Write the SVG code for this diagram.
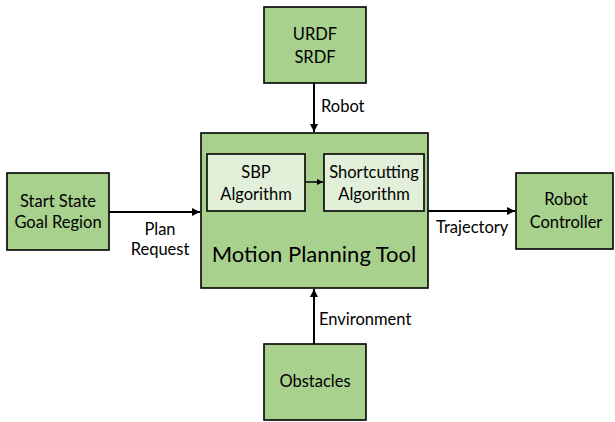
<svg xmlns="http://www.w3.org/2000/svg" width="615" height="422" viewBox="0 0 615 422">
<style>
.box{fill:#A9D18E;stroke:#000;stroke-width:1.6}
.inner{fill:#E2F0D9;stroke:#000;stroke-width:1.6}
.t{font-family:Lato,"Noto Sans",sans-serif;font-size:16.5px;fill:#000;text-anchor:middle}
.l{font-family:Lato,"Noto Sans",sans-serif;font-size:16.5px;fill:#000}
.big{font-family:Lato,"Noto Sans",sans-serif;font-size:22px;fill:#000;text-anchor:middle}
.c{stroke:#000;stroke-width:2;fill:none}
.ci{stroke:#000;stroke-width:1.5;fill:none}
</style>
<defs>
<marker id="ah" viewBox="0 0 10 10" refX="10" refY="5" markerWidth="8" markerHeight="8" orient="auto" markerUnits="userSpaceOnUse">
<path d="M0,0 L10,5 L0,10 z" fill="#000"/>
</marker>
<marker id="ahs" viewBox="0 0 10 10" refX="10" refY="5" markerWidth="6" markerHeight="6" orient="auto" markerUnits="userSpaceOnUse">
<path d="M0,0 L10,5 L0,10 z" fill="#000"/>
</marker>
</defs>
<rect width="615" height="422" fill="#fff"/>
<g id="urdf">
<rect class="box" x="264" y="7" width="102" height="76"/>
<text class="t" x="315" y="40">URDF</text>
<text class="t" x="315" y="63">SRDF</text>
</g>
<g id="start">
<rect class="box" x="7" y="173" width="102" height="77"/>
<text class="t" x="58" y="207">Start State</text>
<text class="t" x="58" y="228">Goal Region</text>
</g>
<g id="mpt">
<rect class="box" x="201" y="133" width="227" height="155"/>
<text class="big" x="314" y="262">Motion Planning Tool</text>
</g>
<g id="sbp">
<rect class="inner" x="207" y="154" width="98" height="57"/>
<text class="t" x="256" y="178">SBP</text>
<text class="t" x="256" y="200">Algorithm</text>
</g>
<g id="shortcut">
<rect class="inner" x="324" y="154" width="100" height="57"/>
<text class="t" x="374" y="178">Shortcutting</text>
<text class="t" x="374" y="200">Algorithm</text>
</g>
<g id="controller">
<rect class="box" x="516" y="173" width="97" height="76"/>
<text class="t" x="566" y="205">Robot</text>
<text class="t" x="566" y="228">Controller</text>
</g>
<g id="obstacles">
<rect class="box" x="264" y="344" width="102" height="76"/>
<text class="t" x="315" y="387">Obstacles</text>
</g>
<g id="connectors">
<line class="c" x1="314" y1="83" x2="314" y2="132" marker-end="url(#ah)"/>
<line class="c" x1="109" y1="212" x2="200" y2="212" marker-end="url(#ah)"/>
<line class="c" x1="428" y1="211" x2="515" y2="211" marker-end="url(#ah)"/>
<line class="c" x1="314" y1="344" x2="314" y2="289" marker-end="url(#ah)"/>
<line class="ci" x1="305" y1="182" x2="323" y2="182" marker-end="url(#ahs)"/>
<text class="l" x="321" y="112">Robot</text>
<text class="l" x="160" y="235" text-anchor="middle">Plan</text>
<text class="l" x="160" y="255" text-anchor="middle">Request</text>
<text class="l" x="436" y="233">Trajectory</text>
<text class="l" x="319" y="325">Environment</text>
</g>
</svg>
